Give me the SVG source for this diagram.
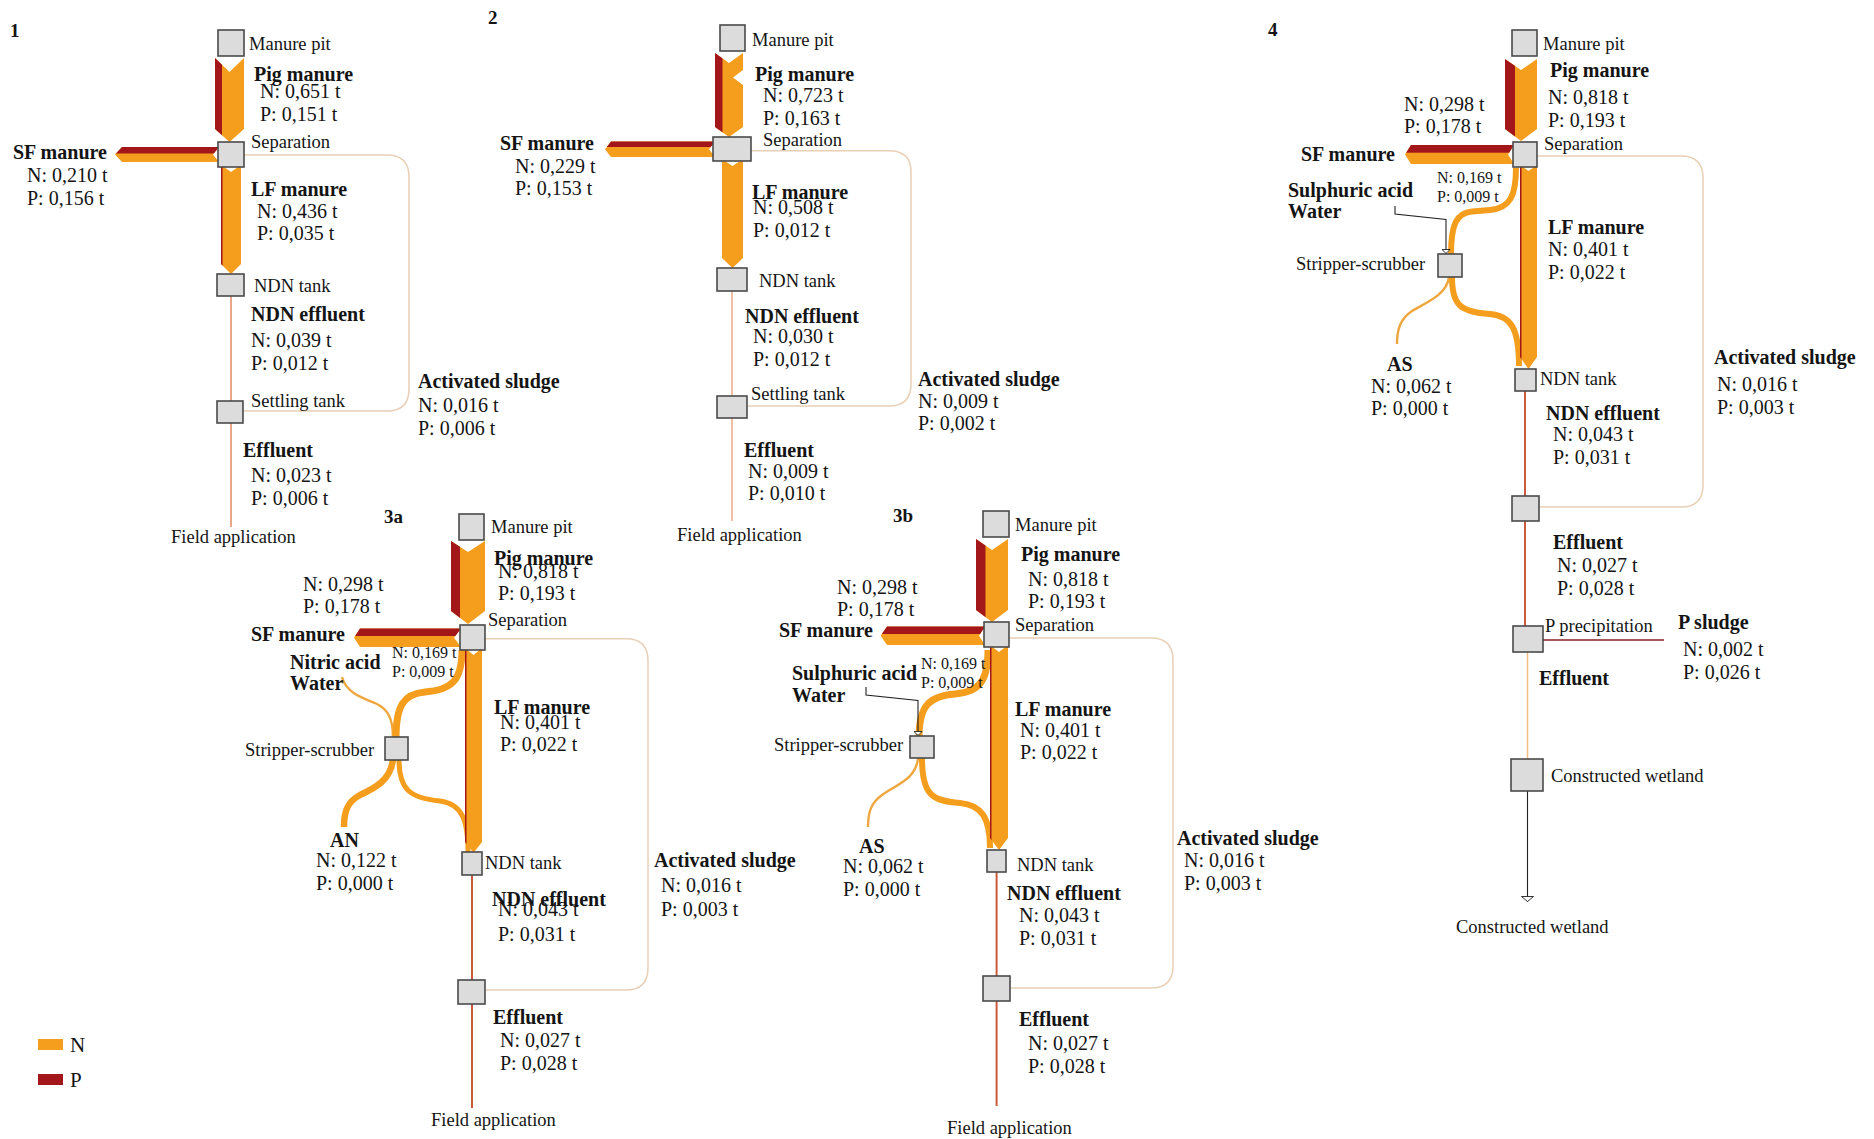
<svg xmlns="http://www.w3.org/2000/svg" xmlns:xlink="http://www.w3.org/1999/xlink" width="1874" height="1139" viewBox="0 0 1874 1139">
  <style>
    text { font-family: "Liberation Serif", "Times New Roman", serif; fill: #141414; }
    .lbl { font-size: 18.5px; }
    .v { font-size: 20px; }
    .b { font-size: 20px; font-weight: bold; }
    .s { font-size: 16px; }
    .h { font-size: 19px; font-weight: bold; }
    .box { fill: #dcdcdc; stroke: #4a4a4a; stroke-width: 1.6; }
    .n { fill: #f59e1d; }
    .p { fill: #a3171b; }
    .nf { fill: none; stroke: #f59e1d; stroke-linecap: butt; }
    .nthin { fill: none; stroke: #eea73e; stroke-width: 2.4; }
    .loop { fill: none; stroke: #e8cfb6; stroke-width: 1.5; }
    .eff { fill: none; stroke: #c95a3d; stroke-width: 2; }
    .eff1 { fill: none; stroke: #e3916b; stroke-width: 1.6; }
    .eff2 { fill: none; stroke: #e8a98a; stroke-width: 1.5; }
    .light { fill: none; stroke: #f0bd82; stroke-width: 1.5; }
    .sludge { fill: none; stroke: #8e1e1e; stroke-width: 1.6; }
    .feed { fill: none; stroke: #222; stroke-width: 1.1; }
  </style>
  <defs>
    <marker id="tip" viewBox="0 0 5 9" refX="5" refY="4.5" markerWidth="5" markerHeight="9" markerUnits="userSpaceOnUse" orient="auto">
      <path d="M0.5,0.5 L4.5,4.5 L0.5,8.5 Z" fill="#fff" stroke="#222" stroke-width="0.9"/>
    </marker>
    <marker id="tipw" viewBox="0 0 6 13" refX="6" refY="6.5" markerWidth="6" markerHeight="13" markerUnits="userSpaceOnUse" orient="auto">
      <path d="M0.5,0.5 L5.5,6.5 L0.5,12.5 Z" fill="#fff" stroke="#333" stroke-width="1"/>
    </marker>

    <!-- flow band outlines (shared by fill and by clip of the P share) -->
    <polygon id="pig1" points="215,58 229.5,72 244,58 244,129 229.5,142 215,129"/>
    <polygon id="sf1" points="115,154.5 122,147 219,147 213,154.5 219,162 122,162"/>
    <polygon id="lf1" points="221,165 231,172 241,165 241,264 231,274 221,264"/>

    <polygon id="pig2" points="715,53 729,63 743,53 743,70 733,77.5 743,85 743,127 729,137 715,127"/>
    <polygon id="sf2" points="605,149.2 611,141.5 715,141.5 709,149.2 715,157 611,157"/>
    <polygon id="lf2" points="722,159 732.5,166 743,159 743,258 732.5,268 722,258"/>

    <polygon id="pig4" points="1505,59 1521,70 1537,59 1537,129 1521,141 1505,129"/>
    <polygon id="sf4" points="1405,154.5 1411,145 1514,145 1508,154.5 1514,164 1411,164"/>
    <polygon id="lf4" points="1520,165 1528.5,171 1537,165 1537,357 1528.5,369 1520,357"/>

    <polygon id="pig3a" points="451,541 468,552 485,541 485,611 468,624 451,611"/>
    <polygon id="sf3a" points="354,637.7 360,628.5 461,628.5 454,637.7 461,647 360,647"/>
    <polygon id="lf3a" points="465,648 473.5,655 482,648 482,842 473.5,853 465,842"/>

    <polygon id="pig3b" points="976,539 992,550 1008,539 1008,610 992,622 976,610"/>
    <polygon id="sf3b" points="880.6,635.7 887,626.5 985,626.5 979,635.7 985,645 887,645"/>
    <polygon id="lf3b" points="990,645 999,652 1008,645 1008,838 999,850 990,838"/>

    <clipPath id="c-pig1"><use xlink:href="#pig1"/></clipPath>
    <clipPath id="c-sf1"><use xlink:href="#sf1"/></clipPath>
    <clipPath id="c-lf1"><use xlink:href="#lf1"/></clipPath>
    <clipPath id="c-pig2"><use xlink:href="#pig2"/></clipPath>
    <clipPath id="c-sf2"><use xlink:href="#sf2"/></clipPath>
    <clipPath id="c-pig4"><use xlink:href="#pig4"/></clipPath>
    <clipPath id="c-sf4"><use xlink:href="#sf4"/></clipPath>
    <clipPath id="c-lf4"><use xlink:href="#lf4"/></clipPath>
    <clipPath id="c-pig3a"><use xlink:href="#pig3a"/></clipPath>
    <clipPath id="c-sf3a"><use xlink:href="#sf3a"/></clipPath>
    <clipPath id="c-lf3a"><use xlink:href="#lf3a"/></clipPath>
    <clipPath id="c-pig3b"><use xlink:href="#pig3b"/></clipPath>
    <clipPath id="c-sf3b"><use xlink:href="#sf3b"/></clipPath>
    <clipPath id="c-lf3b"><use xlink:href="#lf3b"/></clipPath>
  </defs>

  <rect width="1874" height="1139" fill="#fff"/>

  <!-- ============ flows and links ============ -->
  <g id="connectors">
    <!-- scenario 1 -->
    <path class="loop" d="M244,155 H387 Q409,155 409,177 V389 Q409,411 387,411 H243"/>
    <path class="eff1" d="M231,296 V401"/>
    <path class="eff1" d="M231,423 V527"/>
    <use xlink:href="#pig1" class="n"/>
    <rect class="p" x="213" y="50" width="9" height="100" clip-path="url(#c-pig1)"/>
    <use xlink:href="#sf1" class="n"/>
    <rect class="p" x="110" y="140" width="115" height="13.5" clip-path="url(#c-sf1)"/>
    <use xlink:href="#lf1" class="n"/>
    <rect class="p" x="219" y="160" width="3.5" height="120" clip-path="url(#c-lf1)"/>

    <!-- scenario 2 -->
    <path class="loop" d="M751,150.7 H889 Q911,150.7 911,172 V384 Q911,406 889,406 H747"/>
    <path class="eff2" d="M732,291 V396"/>
    <path class="eff2" d="M732,418 V521"/>
    <use xlink:href="#pig2" class="n"/>
    <rect class="p" x="713" y="45" width="9.5" height="100" clip-path="url(#c-pig2)"/>
    <use xlink:href="#sf2" class="n"/>
    <rect class="p" x="600" y="135" width="120" height="12" clip-path="url(#c-sf2)"/>
    <use xlink:href="#lf2" class="n"/>

    <!-- scenario 4 -->
    <path class="loop" d="M1537,156 H1681 Q1703,156 1703,178 V485 Q1703,507 1681,507 H1539"/>
    <path class="eff" d="M1525,391 V496"/>
    <path class="eff" d="M1525,521 V626"/>
    <path class="light" d="M1527.5,652 V759"/>
    <path class="sludge" d="M1543,640 H1664"/>
    <path class="feed" d="M1527.5,791 V902" marker-end="url(#tipw)"/>
    <path class="nf" stroke-width="6" d="M1516,168 C1516,196 1510,208 1490,210 L1472,211.5 C1456,213 1451,225 1451,255"/>
    <path class="nthin" d="M1449,277 C1447,295 1425,303 1412,311 C1400,319 1397,330 1397,344"/>
    <path class="nf" stroke-width="6" d="M1452,277 C1452,305 1460,312 1490,314 C1512,316 1519,330 1519,366"/>
    <path class="feed" d="M1395,206 V214 L1446,219.5 V254" marker-end="url(#tip)"/>
    <use xlink:href="#pig4" class="n"/>
    <rect class="p" x="1503" y="50" width="12" height="100" clip-path="url(#c-pig4)"/>
    <use xlink:href="#sf4" class="n"/>
    <rect class="p" x="1400" y="138" width="120" height="14.7" clip-path="url(#c-sf4)"/>
    <use xlink:href="#lf4" class="n"/>
    <rect class="p" x="1518" y="160" width="3.5" height="215" clip-path="url(#c-lf4)"/>

    <!-- scenario 3a -->
    <path class="loop" d="M485,638.7 H626 Q648,638.7 648,661 V968 Q648,990 626,990 H485"/>
    <path class="eff" d="M472,875 V980"/>
    <path class="eff" d="M472,1004 V1108"/>
    <path class="nthin" d="M342,677 C346,692 360,697 375,703 C388,709 393,718 393,738"/>
    <path class="nf" stroke-width="7" d="M462,650 C462,680 452,690 425,692 C404,694 396,705 396,738"/>
    <path class="nf" stroke-width="6.5" d="M393,759 C391,780 375,788 360,795 C347,802 344,812 344,827"/>
    <path class="nf" stroke-width="5" d="M399,759 C399,790 410,798 440,801 C462,804 468,820 468,852"/>
    <use xlink:href="#pig3a" class="n"/>
    <rect class="p" x="449" y="535" width="11" height="100" clip-path="url(#c-pig3a)"/>
    <use xlink:href="#sf3a" class="n"/>
    <rect class="p" x="350" y="620" width="115" height="16" clip-path="url(#c-sf3a)"/>
    <use xlink:href="#lf3a" class="n"/>
    <rect class="p" x="463" y="645" width="3.5" height="215" clip-path="url(#c-lf3a)"/>

    <!-- scenario 3b -->
    <path class="loop" d="M1009,638 H1151 Q1173,638 1173,660 V966 Q1173,988 1151,988 H1010"/>
    <path class="eff" d="M996.6,872 V976"/>
    <path class="eff" d="M996.6,1001 V1106"/>
    <path class="nf" stroke-width="7" d="M988,650 C988,680 980,692 955,694 C930,696 919,705 919,737"/>
    <path class="nthin" d="M918,758 C916,780 895,785 882,795 C871,803 868,812 868,827"/>
    <path class="nf" stroke-width="6" d="M922,758 C922,795 932,801 960,803 C982,805 990,818 990,848"/>
    <path class="feed" d="M866,687 V695 L918,700.5 V736" marker-end="url(#tip)"/>
    <use xlink:href="#pig3b" class="n"/>
    <rect class="p" x="974" y="535" width="11.5" height="100" clip-path="url(#c-pig3b)"/>
    <use xlink:href="#sf3b" class="n"/>
    <rect class="p" x="875" y="620" width="115" height="14" clip-path="url(#c-sf3b)"/>
    <use xlink:href="#lf3b" class="n"/>
    <rect class="p" x="988" y="640" width="3.5" height="215" clip-path="url(#c-lf3b)"/>
  </g>

  <!-- ============ scenario 1 ============ -->
  <text class="h" x="10" y="37">1</text>
  <g id="s1-manure-pit"><rect class="box" x="218" y="30" width="26" height="26"/><text class="lbl" x="249" y="50">Manure pit</text></g>
  <g id="s1-separation"><rect class="box" x="218" y="142" width="26" height="25"/><text class="lbl" x="251" y="148">Separation</text></g>
  <g id="s1-ndn-tank"><rect class="box" x="217" y="274" width="27" height="22"/><text class="lbl" x="254" y="292">NDN tank</text></g>
  <g id="s1-settling-tank"><rect class="box" x="217" y="401" width="26" height="22"/><text class="lbl" x="251" y="407">Settling tank</text></g>
  <g id="s1-field"><text class="lbl" x="171" y="543">Field application</text></g>
  <g id="s1-flow-labels">
    <text class="b" x="254" y="81">Pig manure</text>
    <text class="v" x="260" y="98">N: 0,651 t</text>
    <text class="v" x="260" y="121">P: 0,151 t</text>
    <text class="b" x="13" y="159">SF manure</text>
    <text class="v" x="27" y="182">N: 0,210 t</text>
    <text class="v" x="27" y="205">P: 0,156 t</text>
    <text class="b" x="251" y="196">LF manure</text>
    <text class="v" x="257" y="218">N: 0,436 t</text>
    <text class="v" x="257" y="240">P: 0,035 t</text>
    <text class="b" x="251" y="321">NDN effluent</text>
    <text class="v" x="251" y="347">N: 0,039 t</text>
    <text class="v" x="251" y="370">P: 0,012 t</text>
    <text class="b" x="418" y="388">Activated sludge</text>
    <text class="v" x="418" y="412">N: 0,016 t</text>
    <text class="v" x="418" y="435">P: 0,006 t</text>
    <text class="b" x="243" y="457">Effluent</text>
    <text class="v" x="251" y="482">N: 0,023 t</text>
    <text class="v" x="251" y="505">P: 0,006 t</text>
  </g>

  <!-- ============ scenario 2 ============ -->
  <text class="h" x="488" y="24">2</text>
  <g id="s2-manure-pit"><rect class="box" x="720" y="25" width="25" height="26"/><text class="lbl" x="752" y="46">Manure pit</text></g>
  <g id="s2-separation"><rect class="box" x="713" y="137" width="38" height="24"/><text class="lbl" x="763" y="146">Separation</text></g>
  <g id="s2-ndn-tank"><rect class="box" x="717" y="268" width="30" height="23"/><text class="lbl" x="759" y="287">NDN tank</text></g>
  <g id="s2-settling-tank"><rect class="box" x="717" y="396" width="30" height="22"/><text class="lbl" x="751" y="400">Settling tank</text></g>
  <g id="s2-field"><text class="lbl" x="677" y="541">Field application</text></g>
  <g id="s2-flow-labels">
    <text class="b" x="755" y="81">Pig manure</text>
    <text class="v" x="763" y="102">N: 0,723 t</text>
    <text class="v" x="763" y="125">P: 0,163 t</text>
    <text class="b" x="500" y="150">SF manure</text>
    <text class="v" x="515" y="173">N: 0,229 t</text>
    <text class="v" x="515" y="195">P: 0,153 t</text>
    <text class="b" x="752" y="199">LF manure</text>
    <text class="v" x="753" y="214">N: 0,508 t</text>
    <text class="v" x="753" y="237">P: 0,012 t</text>
    <text class="b" x="745" y="323">NDN effluent</text>
    <text class="v" x="753" y="343">N: 0,030 t</text>
    <text class="v" x="753" y="366">P: 0,012 t</text>
    <text class="b" x="918" y="386">Activated sludge</text>
    <text class="v" x="918" y="408">N: 0,009 t</text>
    <text class="v" x="918" y="430">P: 0,002 t</text>
    <text class="b" x="744" y="457">Effluent</text>
    <text class="v" x="748" y="478">N: 0,009 t</text>
    <text class="v" x="748" y="500">P: 0,010 t</text>
  </g>

  <!-- ============ scenario 4 ============ -->
  <text class="h" x="1268" y="36">4</text>
  <g id="s4-manure-pit"><rect class="box" x="1512" y="30" width="25" height="26"/><text class="lbl" x="1543" y="50">Manure pit</text></g>
  <g id="s4-separation"><rect class="box" x="1513" y="142" width="24" height="25"/><text class="lbl" x="1544" y="150">Separation</text></g>
  <g id="s4-stripper"><rect class="box" x="1438" y="254" width="24" height="23"/><text class="lbl" x="1296" y="270">Stripper-scrubber</text></g>
  <g id="s4-ndn-tank"><rect class="box" x="1515" y="369" width="21" height="22"/><text class="lbl" x="1540" y="385">NDN tank</text></g>
  <g id="s4-settling-tank"><rect class="box" x="1512" y="496" width="27" height="25"/></g>
  <g id="s4-p-precipitation"><rect class="box" x="1513" y="626" width="30" height="26"/><text class="lbl" x="1545" y="632">P precipitation</text></g>
  <g id="s4-wetland"><rect class="box" x="1511" y="759" width="32" height="32"/><text class="lbl" x="1551" y="782">Constructed wetland</text></g>
  <g id="s4-wetland-out"><text class="lbl" x="1456" y="933">Constructed wetland</text></g>
  <g id="s4-flow-labels">
    <text class="b" x="1550" y="77">Pig manure</text>
    <text class="v" x="1548" y="104">N: 0,818 t</text>
    <text class="v" x="1548" y="127">P: 0,193 t</text>
    <text class="v" x="1404" y="111">N: 0,298 t</text>
    <text class="v" x="1404" y="133">P: 0,178 t</text>
    <text class="b" x="1301" y="161">SF manure</text>
    <text class="s" x="1437" y="183">N: 0,169 t</text>
    <text class="s" x="1437" y="202">P: 0,009 t</text>
    <text class="b" x="1288" y="197">Sulphuric acid</text>
    <text class="b" x="1288" y="218">Water</text>
    <text class="b" x="1548" y="234">LF manure</text>
    <text class="v" x="1548" y="256">N: 0,401 t</text>
    <text class="v" x="1548" y="279">P: 0,022 t</text>
    <text class="b" x="1387" y="371">AS</text>
    <text class="v" x="1371" y="393">N: 0,062 t</text>
    <text class="v" x="1371" y="415">P: 0,000 t</text>
    <text class="b" x="1546" y="420">NDN effluent</text>
    <text class="v" x="1553" y="441">N: 0,043 t</text>
    <text class="v" x="1553" y="464">P: 0,031 t</text>
    <text class="b" x="1714" y="364">Activated sludge</text>
    <text class="v" x="1717" y="391">N: 0,016 t</text>
    <text class="v" x="1717" y="414">P: 0,003 t</text>
    <text class="b" x="1553" y="549">Effluent</text>
    <text class="v" x="1557" y="572">N: 0,027 t</text>
    <text class="v" x="1557" y="595">P: 0,028 t</text>
    <text class="b" x="1678" y="629">P sludge</text>
    <text class="v" x="1683" y="656">N: 0,002 t</text>
    <text class="v" x="1683" y="679">P: 0,026 t</text>
    <text class="b" x="1539" y="685">Effluent</text>
  </g>

  <!-- ============ scenario 3a ============ -->
  <text class="h" x="384" y="523">3a</text>
  <g id="s3a-manure-pit"><rect class="box" x="459" y="514" width="25" height="26"/><text class="lbl" x="491" y="533">Manure pit</text></g>
  <g id="s3a-separation"><rect class="box" x="460" y="625" width="25" height="25"/><text class="lbl" x="488" y="626">Separation</text></g>
  <g id="s3a-stripper"><rect class="box" x="385" y="737" width="23" height="23"/><text class="lbl" x="245" y="756">Stripper-scrubber</text></g>
  <g id="s3a-ndn-tank"><rect class="box" x="462" y="852" width="20" height="23"/><text class="lbl" x="485" y="869">NDN tank</text></g>
  <g id="s3a-settling-tank"><rect class="box" x="458" y="980" width="27" height="24"/></g>
  <g id="s3a-field"><text class="lbl" x="431" y="1126">Field application</text></g>
  <g id="s3a-flow-labels">
    <text class="b" x="494" y="565">Pig manure</text>
    <text class="v" x="498" y="578">N: 0,818 t</text>
    <text class="v" x="498" y="600">P: 0,193 t</text>
    <text class="v" x="303" y="591">N: 0,298 t</text>
    <text class="v" x="303" y="613">P: 0,178 t</text>
    <text class="b" x="251" y="641">SF manure</text>
    <text class="b" x="290" y="669">Nitric acid</text>
    <text class="b" x="290" y="690">Water</text>
    <text class="s" x="392" y="658">N: 0,169 t</text>
    <text class="s" x="392" y="677">P: 0,009 t</text>
    <text class="b" x="494" y="714">LF manure</text>
    <text class="v" x="500" y="729">N: 0,401 t</text>
    <text class="v" x="500" y="751">P: 0,022 t</text>
    <text class="b" x="330" y="847">AN</text>
    <text class="v" x="316" y="867">N: 0,122 t</text>
    <text class="v" x="316" y="890">P: 0,000 t</text>
    <text class="b" x="492" y="906">NDN effluent</text>
    <text class="v" x="498" y="916">N: 0,043 t</text>
    <text class="v" x="498" y="941">P: 0,031 t</text>
    <text class="b" x="654" y="867">Activated sludge</text>
    <text class="v" x="661" y="892">N: 0,016 t</text>
    <text class="v" x="661" y="916">P: 0,003 t</text>
    <text class="b" x="493" y="1024">Effluent</text>
    <text class="v" x="500" y="1047">N: 0,027 t</text>
    <text class="v" x="500" y="1070">P: 0,028 t</text>
  </g>

  <!-- ============ scenario 3b ============ -->
  <text class="h" x="893" y="522">3b</text>
  <g id="s3b-manure-pit"><rect class="box" x="983" y="511" width="26" height="26"/><text class="lbl" x="1015" y="531">Manure pit</text></g>
  <g id="s3b-separation"><rect class="box" x="984" y="622" width="25" height="25"/><text class="lbl" x="1015" y="631">Separation</text></g>
  <g id="s3b-stripper"><rect class="box" x="910" y="736" width="24" height="22"/><text class="lbl" x="774" y="751">Stripper-scrubber</text></g>
  <g id="s3b-ndn-tank"><rect class="box" x="987" y="850" width="19" height="22"/><text class="lbl" x="1017" y="871">NDN tank</text></g>
  <g id="s3b-settling-tank"><rect class="box" x="983" y="976" width="27" height="25"/></g>
  <g id="s3b-field"><text class="lbl" x="947" y="1134">Field application</text></g>
  <g id="s3b-flow-labels">
    <text class="b" x="1021" y="561">Pig manure</text>
    <text class="v" x="1028" y="586">N: 0,818 t</text>
    <text class="v" x="1028" y="608">P: 0,193 t</text>
    <text class="v" x="837" y="594">N: 0,298 t</text>
    <text class="v" x="837" y="616">P: 0,178 t</text>
    <text class="b" x="779" y="637">SF manure</text>
    <text class="s" x="921" y="669">N: 0,169 t</text>
    <text class="s" x="921" y="688">P: 0,009 t</text>
    <text class="b" x="792" y="680">Sulphuric acid</text>
    <text class="b" x="792" y="702">Water</text>
    <text class="b" x="1015" y="716">LF manure</text>
    <text class="v" x="1020" y="737">N: 0,401 t</text>
    <text class="v" x="1020" y="759">P: 0,022 t</text>
    <text class="b" x="859" y="853">AS</text>
    <text class="v" x="843" y="873">N: 0,062 t</text>
    <text class="v" x="843" y="896">P: 0,000 t</text>
    <text class="b" x="1007" y="900">NDN effluent</text>
    <text class="v" x="1019" y="922">N: 0,043 t</text>
    <text class="v" x="1019" y="945">P: 0,031 t</text>
    <text class="b" x="1177" y="845">Activated sludge</text>
    <text class="v" x="1184" y="867">N: 0,016 t</text>
    <text class="v" x="1184" y="890">P: 0,003 t</text>
    <text class="b" x="1019" y="1026">Effluent</text>
    <text class="v" x="1028" y="1050">N: 0,027 t</text>
    <text class="v" x="1028" y="1073">P: 0,028 t</text>
  </g>

  <!-- ============ legend ============ -->
  <g id="legend">
    <rect class="n" x="38" y="1039" width="25" height="11"/>
    <text x="70" y="1052" style="font-size:21px">N</text>
    <rect class="p" x="38" y="1074" width="25" height="11"/>
    <text x="70" y="1087" style="font-size:21px">P</text>
  </g>
</svg>
